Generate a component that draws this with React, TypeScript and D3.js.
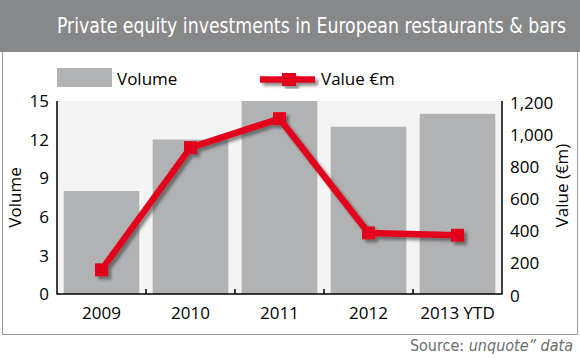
import * as d3 from 'd3';
import { useEffect, useRef } from 'react';

const years = ['2009', '2010', '2011', '2012', '2013 YTD'];
const volume = [8, 12, 15, 13, 14];
const valueEm = [150, 910, 1090, 380, 365];
const volumeTicks = [0, 3, 6, 9, 12, 15];
const valueTicks = [0, 200, 400, 600, 800, 1000, 1200];

const W = 580;
const H = 358;
const plot = { left: 57, right: 502, top: 101, bottom: 294 };
const sansFont = '"Open Sans", "Noto Sans", sans-serif';
const narrowFont = '"Liberation Sans Narrow", "DejaVu Sans Condensed", sans-serif';
const red = '#e2001a';

export default function App() {
  const svgRef = useRef<SVGSVGElement | null>(null);

  useEffect(() => {
    if (!svgRef.current) return;
    const svg = d3.select(svgRef.current).html('');

    const defs = svg.append('defs');
    const shadow = defs.append('filter')
      .attr('id', 'shadow')
      .attr('x', '-20%').attr('y', '-20%')
      .attr('width', '140%').attr('height', '140%');
    shadow.append('feDropShadow')
      .attr('dx', 3).attr('dy', 3)
      .attr('stdDeviation', 1.8)
      .attr('flood-color', '#333')
      .attr('flood-opacity', 0.55);

    // Frame and title bar
    svg.append('rect')
      .attr('x', 2.5).attr('y', 0.5)
      .attr('width', 575).attr('height', 334)
      .attr('fill', '#fff')
      .attr('stroke', '#9a9b9d');
    svg.append('rect')
      .attr('x', 0).attr('y', 0)
      .attr('width', 580).attr('height', 52)
      .attr('fill', '#87888a');
    svg.append('text')
      .attr('x', 566).attr('y', 33)
      .attr('text-anchor', 'end')
      .attr('fill', '#fff')
      .attr('textLength', 509)
      .attr('lengthAdjust', 'spacingAndGlyphs')
      .style('font-family', narrowFont)
      .style('font-size', '21px')
      .text('Private equity investments in European restaurants & bars');

    const x = d3.scaleBand<string>()
      .domain(years)
      .range([plot.left, plot.right])
      .paddingInner(0.15)
      .paddingOuter(0.075);
    const yVol = d3.scaleLinear().domain([0, 15]).range([plot.bottom, plot.top]);
    const yVal = d3.scaleLinear().domain([0, 1200]).range([plot.bottom, plot.top]);

    // Plot background
    svg.append('rect')
      .attr('x', plot.left).attr('y', plot.top)
      .attr('width', plot.right - plot.left)
      .attr('height', plot.bottom - plot.top)
      .attr('fill', '#f4f4f4');

    // Bars
    svg.append('g')
      .selectAll('rect')
      .data(volume)
      .enter().append('rect')
      .attr('x', (d, i) => x(years[i])!)
      .attr('y', d => yVol(d))
      .attr('width', x.bandwidth())
      .attr('height', d => plot.bottom - yVol(d))
      .attr('fill', '#b1b2b4');

    // Axes lines
    const axes = svg.append('g').attr('stroke', '#000').attr('stroke-width', 1.5).attr('fill', 'none');
    axes.append('path')
      .attr('d', `M${plot.left},${plot.top}V${plot.bottom}H${plot.right}V${plot.top}`);
    const step = x.step();
    d3.range(1, years.length).forEach(k => {
      const tx = plot.left + step * k;
      axes.append('line')
        .attr('x1', tx).attr('x2', tx)
        .attr('y1', plot.bottom).attr('y2', plot.bottom - 5);
    });

    // Left tick labels
    svg.append('g')
      .selectAll('text')
      .data(volumeTicks)
      .enter().append('text')
      .attr('x', 49)
      .attr('y', d => yVol(d))
      .attr('dy', '0.36em')
      .attr('text-anchor', 'end')
      .style('font-family', sansFont)
      .style('font-size', '17px')
      .text(d => d);

    // Right tick labels
    svg.append('g')
      .selectAll('text')
      .data(valueTicks)
      .enter().append('text')
      .attr('x', 510)
      .attr('y', d => yVal(d) + 1.5)
      .attr('dy', '0.36em')
      .style('font-family', sansFont)
      .style('font-size', '17px')
      .text(d => d3.format(',')(d));

    // X labels
    svg.append('g')
      .selectAll('text')
      .data(years)
      .enter().append('text')
      .attr('x', d => x(d)! + x.bandwidth() / 2)
      .attr('y', 319)
      .attr('text-anchor', 'middle')
      .style('font-family', sansFont)
      .style('font-size', '17px')
      .text(d => d);

    // Axis titles
    svg.append('text')
      .attr('transform', `translate(21,${(plot.top + plot.bottom) / 2}) rotate(-90)`)
      .attr('text-anchor', 'middle')
      .style('font-family', sansFont)
      .style('font-size', '17px')
      .text('Volume');
    svg.append('text')
      .attr('transform', `translate(568,${(plot.top + plot.bottom) / 2 - 12}) rotate(-90)`)
      .attr('text-anchor', 'middle')
      .style('font-family', sansFont)
      .style('font-size', '17px')
      .text('Value (€m)');

    // Value line
    const cx = (i: number) => x(years[i])! + x.bandwidth() / 2;
    const line = d3.line<number>()
      .x((d, i) => cx(i))
      .y(d => yVal(d));
    const lineG = svg.append('g').attr('filter', 'url(#shadow)');
    lineG.append('path')
      .datum(valueEm)
      .attr('d', line)
      .attr('fill', 'none')
      .attr('stroke', red)
      .attr('stroke-width', 6.5)
      .attr('stroke-linejoin', 'round');
    lineG.selectAll('rect')
      .data(valueEm)
      .enter().append('rect')
      .attr('x', (d, i) => cx(i) - 6.5)
      .attr('y', d => yVal(d) - 6.5)
      .attr('width', 13)
      .attr('height', 13)
      .attr('fill', red);

    // Legend
    svg.append('rect')
      .attr('x', 57).attr('y', 68)
      .attr('width', 55).attr('height', 19)
      .attr('fill', '#b1b2b4');
    svg.append('text')
      .attr('x', 117).attr('y', 85)
      .style('font-family', sansFont)
      .style('font-size', '17px')
      .text('Volume');
    const lg = svg.append('g').attr('filter', 'url(#shadow)');
    lg.append('line')
      .attr('x1', 260).attr('x2', 315)
      .attr('y1', 79.5).attr('y2', 79.5)
      .attr('stroke', red)
      .attr('stroke-width', 6.5);
    lg.append('rect')
      .attr('x', 282).attr('y', 73)
      .attr('width', 14).attr('height', 13)
      .attr('fill', red);
    svg.append('text')
      .attr('x', 321).attr('y', 85)
      .style('font-family', sansFont)
      .style('font-size', '17px')
      .text('Value €m');

    // Source
    const src = svg.append('text')
      .attr('x', 573).attr('y', 351)
      .attr('text-anchor', 'end')
      .attr('fill', '#6d6e70')
      .style('font-family', narrowFont)
      .style('font-size', '16px');
    src.append('tspan').text('Source: ');
    src.append('tspan').style('font-style', 'italic').text('unquote” data');
  }, []);

  return (
    <svg
      ref={svgRef}
      width={W}
      height={H}
      style={{ position: 'absolute', left: 0, top: 0, background: '#fff' }}
    />
  );
}
